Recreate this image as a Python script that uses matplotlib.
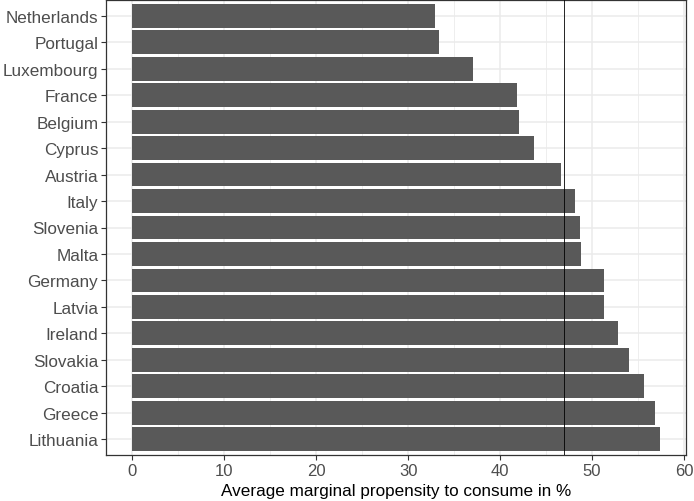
import matplotlib.pyplot as plt
import numpy as np

countries = ['Netherlands', 'Portugal', 'Luxembourg', 'France', 'Belgium', 'Cyprus',
             'Austria', 'Italy', 'Slovenia', 'Malta', 'Germany', 'Latvia', 'Ireland',
             'Slovakia', 'Croatia', 'Greece', 'Lithuania']
mpc = [32.9, 33.3, 37.1, 41.85, 42.0, 43.7, 46.6, 48.1, 48.7, 48.85, 51.3, 51.3,
       52.85, 54.0, 55.7, 56.85, 57.35]
mean_line = 47.0
x_ticks = [0, 10, 20, 30, 40, 50, 60]

plt.rcParams['font.family'] = ['Liberation Sans', 'DejaVu Sans']

fig = plt.figure(figsize=(6.94, 5.02), dpi=100)
ax = fig.add_axes([106 / 694, 1 - 456 / 502, 580 / 694, 455 / 502])

y = np.arange(len(countries))
ax.barh(y, mpc, height=0.9, color='#595959', zorder=3)
ax.axvline(mean_line, color='black', linewidth=0.6, zorder=4)

# ggplot-like expansion
xmax = max(mpc)
ax.set_xlim(-0.05 * xmax, 1.05 * xmax)
ax.set_ylim(len(countries) - 0.4, -0.6)

ax.set_xticks(x_ticks)
ax.set_xticks(np.arange(5, 60, 10), minor=True)
ax.set_yticks(y)
ax.set_yticklabels(countries)

ax.grid(True, which='major', color='#EBEBEB', linewidth=1.1, zorder=0)
ax.grid(True, which='minor', axis='x', color='#EBEBEB', linewidth=0.6, zorder=0)
ax.set_axisbelow(True)

ax.tick_params(axis='both', which='major', labelsize=12.3, labelcolor='#4D4D4D',
               color='#333333', length=3.5, width=0.8, pad=2)
ax.tick_params(axis='x', which='major', labelsize=12)
ax.tick_params(axis='x', which='minor', length=0)
for s in ax.spines.values():
    s.set_color('#333333')
    s.set_linewidth(0.9)

ax.set_xlabel('Average marginal propensity to consume in %', fontsize=12.3,
              color='black', labelpad=4)

fig.savefig('out.png', dpi=100)
